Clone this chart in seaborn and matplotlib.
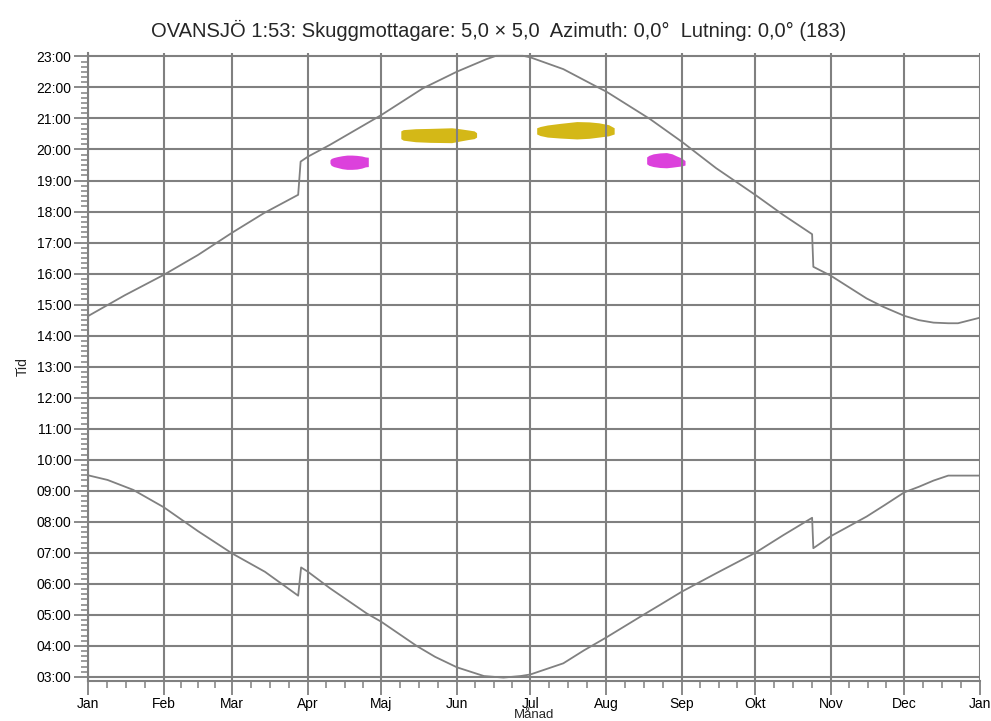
import numpy as np
import pandas as pd
import matplotlib
matplotlib.use("Agg")
import matplotlib.pyplot as plt
import seaborn as sns
from matplotlib.ticker import FixedLocator, FuncFormatter

# ---------------- data ----------------
month_labels = ["Jan", "Feb", "Mar", "Apr", "Maj", "Jun", "Jul",
                "Aug", "Sep", "Okt", "Nov", "Dec", "Jan"]
month_starts = [0, 31, 59, 90, 120, 151, 181, 212, 243, 273, 304, 334, 365]

hour_ticks = list(range(3, 24))

# sunset (upper curve), day of year -> hour
sunset_day = [0, 15, 31, 45, 59, 72, 86.0, 87.0, 90, 99, 120, 137, 151, 163,
              167, 178, 181, 194.5, 208, 212, 230, 243, 257, 273, 284.5,
              296.3, 296.8, 304, 318.6, 325.4, 334, 340, 346, 352, 356, 365]
sunset_hour = [14.63, 15.30, 15.96, 16.60, 17.32, 17.95, 18.54, 19.61, 19.77,
               20.15, 21.11, 21.97, 22.51, 22.91, 23.02, 23.02, 22.97, 22.59,
               22.03, 21.87, 20.98, 20.25, 19.40, 18.54, 17.89, 17.27, 16.22,
               15.93, 15.20, 14.93, 14.64, 14.50, 14.42, 14.40, 14.40, 14.58]

# sunrise (lower curve)
sunrise_day = [0, 8, 18.5, 31, 45, 59, 72.4, 86.0, 87.2, 90, 99, 114, 120,
               134.5, 142, 151, 162, 170, 177, 181, 194.5, 203, 212, 227, 234,
               243, 257, 273, 284.5, 296.3, 296.8, 304, 318.6, 326, 334, 340,
               346, 352, 365]
sunrise_hour = [9.50, 9.35, 9.03, 8.47, 7.70, 6.98, 6.39, 5.62, 6.53, 6.39,
                5.86, 5.05, 4.78, 4.00, 3.65, 3.31, 3.03, 2.98, 3.03, 3.08,
                3.44, 3.86, 4.27, 4.99, 5.32, 5.75, 6.34, 7.00, 7.57, 8.13,
                7.15, 7.54, 8.17, 8.54, 8.95, 9.13, 9.33, 9.49, 9.49]

# shadow periods: day, shadow start, shadow end (hours)
shadow1_day = [99.0, 99.5, 100.5, 102, 104, 106, 108, 110, 112, 113.5, 114.7]
shadow1_start = [19.56, 19.49, 19.45, 19.42, 19.38, 19.36, 19.36, 19.37,
                 19.40, 19.44, 19.45]
shadow1_end = [19.66, 19.71, 19.74, 19.77, 19.80, 19.82, 19.82, 19.81,
               19.79, 19.76, 19.75]

shadow2_day = [128.0, 129.0, 134.0, 140.0, 148.8, 152.0, 155.5, 158.0, 159.0]
shadow2_start = [20.35, 20.30, 20.25, 20.23, 20.22, 20.27, 20.32, 20.35, 20.40]
shadow2_end = [20.60, 20.64, 20.67, 20.68, 20.70, 20.67, 20.63, 20.60, 20.54]

shadow3_day = [183.6, 185.0, 188.0, 193.0, 200.0, 205.0, 209.0, 213.0, 215.3]
shadow3_start = [20.50, 20.45, 20.40, 20.37, 20.34, 20.36, 20.40, 20.44, 20.50]
shadow3_end = [20.70, 20.74, 20.79, 20.84, 20.90, 20.89, 20.86, 20.80, 20.70]

shadow4_day = [228.6, 229.5, 231.3, 234.0, 236.7, 239.0, 240.9, 243.0, 244.3]
shadow4_start = [19.54, 19.49, 19.45, 19.42, 19.41, 19.43, 19.45, 19.47, 19.50]
shadow4_end = [19.76, 19.81, 19.86, 19.89, 19.90, 19.86, 19.79, 19.72, 19.64]

magenta = "#dc41dc"
yellow = "#d4b817"
grey = "#808080"

title = "OVANSJÖ 1:53: Skuggmottagare: 5,0 × 5,0  Azimuth: 0,0°  Lutning: 0,0° (183)"

# ---------------- plot ----------------
sns.set_theme(style="white")
plt.rcParams['font.family'] = ['Liberation Sans', 'DejaVu Sans']

fig = plt.figure(figsize=(9.91, 7.21), dpi=100)
ax = fig.add_axes([88 / 991, 1 - 681 / 721, (980 - 88) / 991, (681 - 53) / 721])

curves = pd.concat([
    pd.DataFrame({"day": sunset_day, "hour": sunset_hour, "kind": "sunset"}),
    pd.DataFrame({"day": sunrise_day, "hour": sunrise_hour, "kind": "sunrise"}),
])
sns.lineplot(data=curves, x="day", y="hour", units="kind", estimator=None,
             sort=False, color=grey, lw=1.3, ax=ax, zorder=3)

for d, s, e, c in [(shadow1_day, shadow1_start, shadow1_end, magenta),
                   (shadow2_day, shadow2_start, shadow2_end, yellow),
                   (shadow3_day, shadow3_start, shadow3_end, yellow),
                   (shadow4_day, shadow4_start, shadow4_end, magenta)]:
    ax.fill_between(d, s, e, color=c, lw=0, zorder=0.3)

ax.set_xlim(0, 365)
ax.set_ylim(2.87, 23.11)

ax.xaxis.set_major_locator(FixedLocator(month_starts))
ax.set_xticklabels(month_labels)
minor_x = []
for a, b in zip(month_starts[:-1], month_starts[1:]):
    q = (b - a) / 4
    minor_x += [a + q, a + 2 * q, a + 3 * q]
ax.xaxis.set_minor_locator(FixedLocator(minor_x))

ax.yaxis.set_major_locator(FixedLocator(hour_ticks))
ax.yaxis.set_major_formatter(FuncFormatter(lambda v, p: f"{int(round(v)):02d}:00"))
ax.yaxis.set_minor_locator(FixedLocator(
    [h + k / 6 for h in range(2, 24) for k in range(1, 6) if 2.87 < h + k / 6 < 23.11]))

ax.set_axisbelow(True)
ax.grid(True, which="major", color=grey, lw=1.5)
for s in ["top", "right"]:
    ax.spines[s].set_visible(False)
for s in ["left", "bottom"]:
    ax.spines[s].set_color(grey)
    ax.spines[s].set_linewidth(1.5)

ax.tick_params(axis="both", which="major", bottom=True, left=True, length=10,
               width=1.3, color=grey, labelsize=10, labelcolor="black", pad=2)
ax.tick_params(axis="both", which="minor", bottom=True, left=True, length=5,
               width=1.1, color=grey)
ax.tick_params(axis="x", which="major", pad=1.5)

ax.set_xlabel("Månad", fontsize=9.5, labelpad=-1.5)
ax.set_ylabel("Tid", fontsize=10, labelpad=5)

fig.text(0.503, 0.958, title, ha="center", va="center", fontsize=14.5)

fig.savefig("out.png", dpi=100)
